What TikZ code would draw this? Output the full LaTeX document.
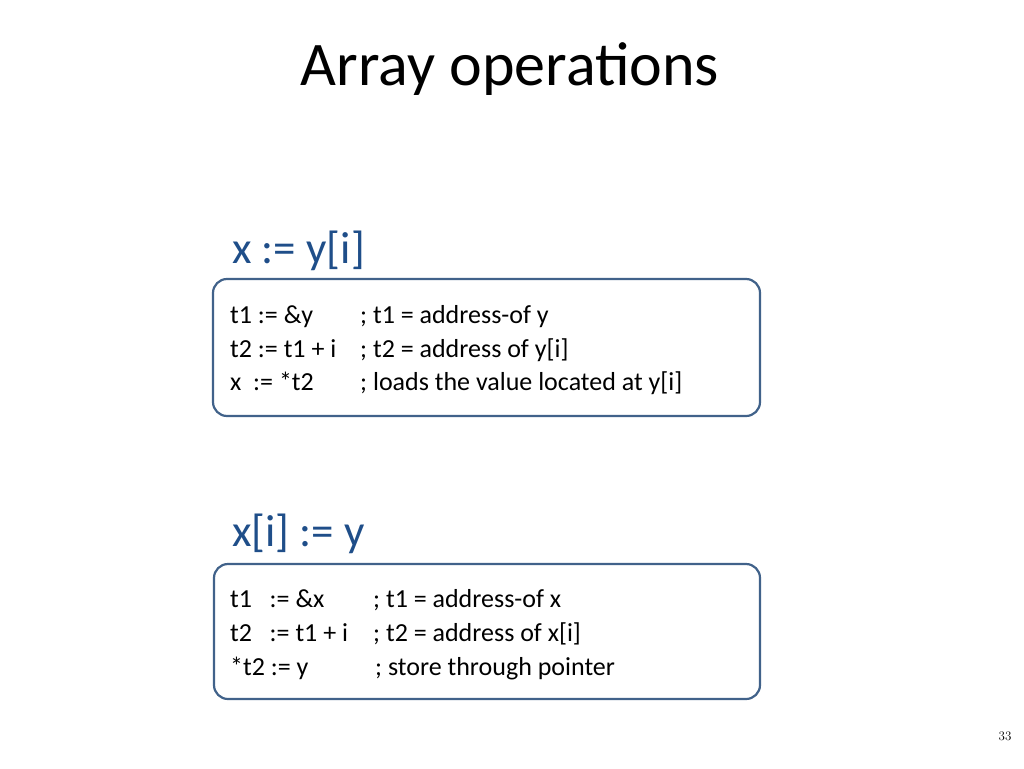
\documentclass[tikz,border=0pt]{standalone}
\usepackage{fontspec}
\setmainfont{Carlito}
\begin{document}
\begin{tikzpicture}[x=1pt,y=-1pt,
  code/.style={anchor=base west,inner sep=0pt,font=\fontsize{26}{30}\selectfont},
  head/.style={anchor=base west,inner sep=0pt,text=headblue,font=\fontsize{45}{50}\selectfont},
  box/.style={draw=boxblue,line width=2.2pt,rounded corners=14pt}]
\definecolor{headblue}{HTML}{1F4E89}
\definecolor{boxblue}{HTML}{41628A}
\useasboundingbox (0,0) rectangle (1024,768);
\node[anchor=base,inner sep=0pt,font=\fontsize{62}{68}\selectfont] (title) at (510,85) {Array operations};
\node[head] (h1) at (232,263) {x := y[i]};
\draw[box] (213,279) rectangle (760,416);
\node[code] (a1) at (230,323) {t1 := \&y};
\node[code] (a2) at (230,357) {t2 := t1 + i};
\node[code] (a3) at (230,390) {x\ \ := *t2};
\node[code] (c1) at (360,323) {; t1 = address-of y};
\node[code] (c2) at (360,357) {; t2 = address of y[i]};
\node[code] (c3) at (360,390) {; loads the value located at y[i]};
\node[head] (h2) at (232,546) {x[i] := y};
\draw[box] (214,564) rectangle (760,699);
\node[code] (b1) at (230,607) {t1\ \ \ := \&x};
\node[code] (b2) at (230,641) {t2\ \ \ := t1 + i};
\node[code] (b3) at (230,675) {*t2 := y};
\node[code] (d1) at (373,607) {; t1 = address-of x};
\node[code] (d2) at (373,641) {; t2 = address of x[i]};
\node[code] (d3) at (375,675) {; store through pointer};
\node[anchor=base,inner sep=0pt,font=\fontfamily{lmr}\selectfont\fontsize{13}{14}\selectfont] (pg) at (1005,740) {33};
\end{tikzpicture}
\end{document}
